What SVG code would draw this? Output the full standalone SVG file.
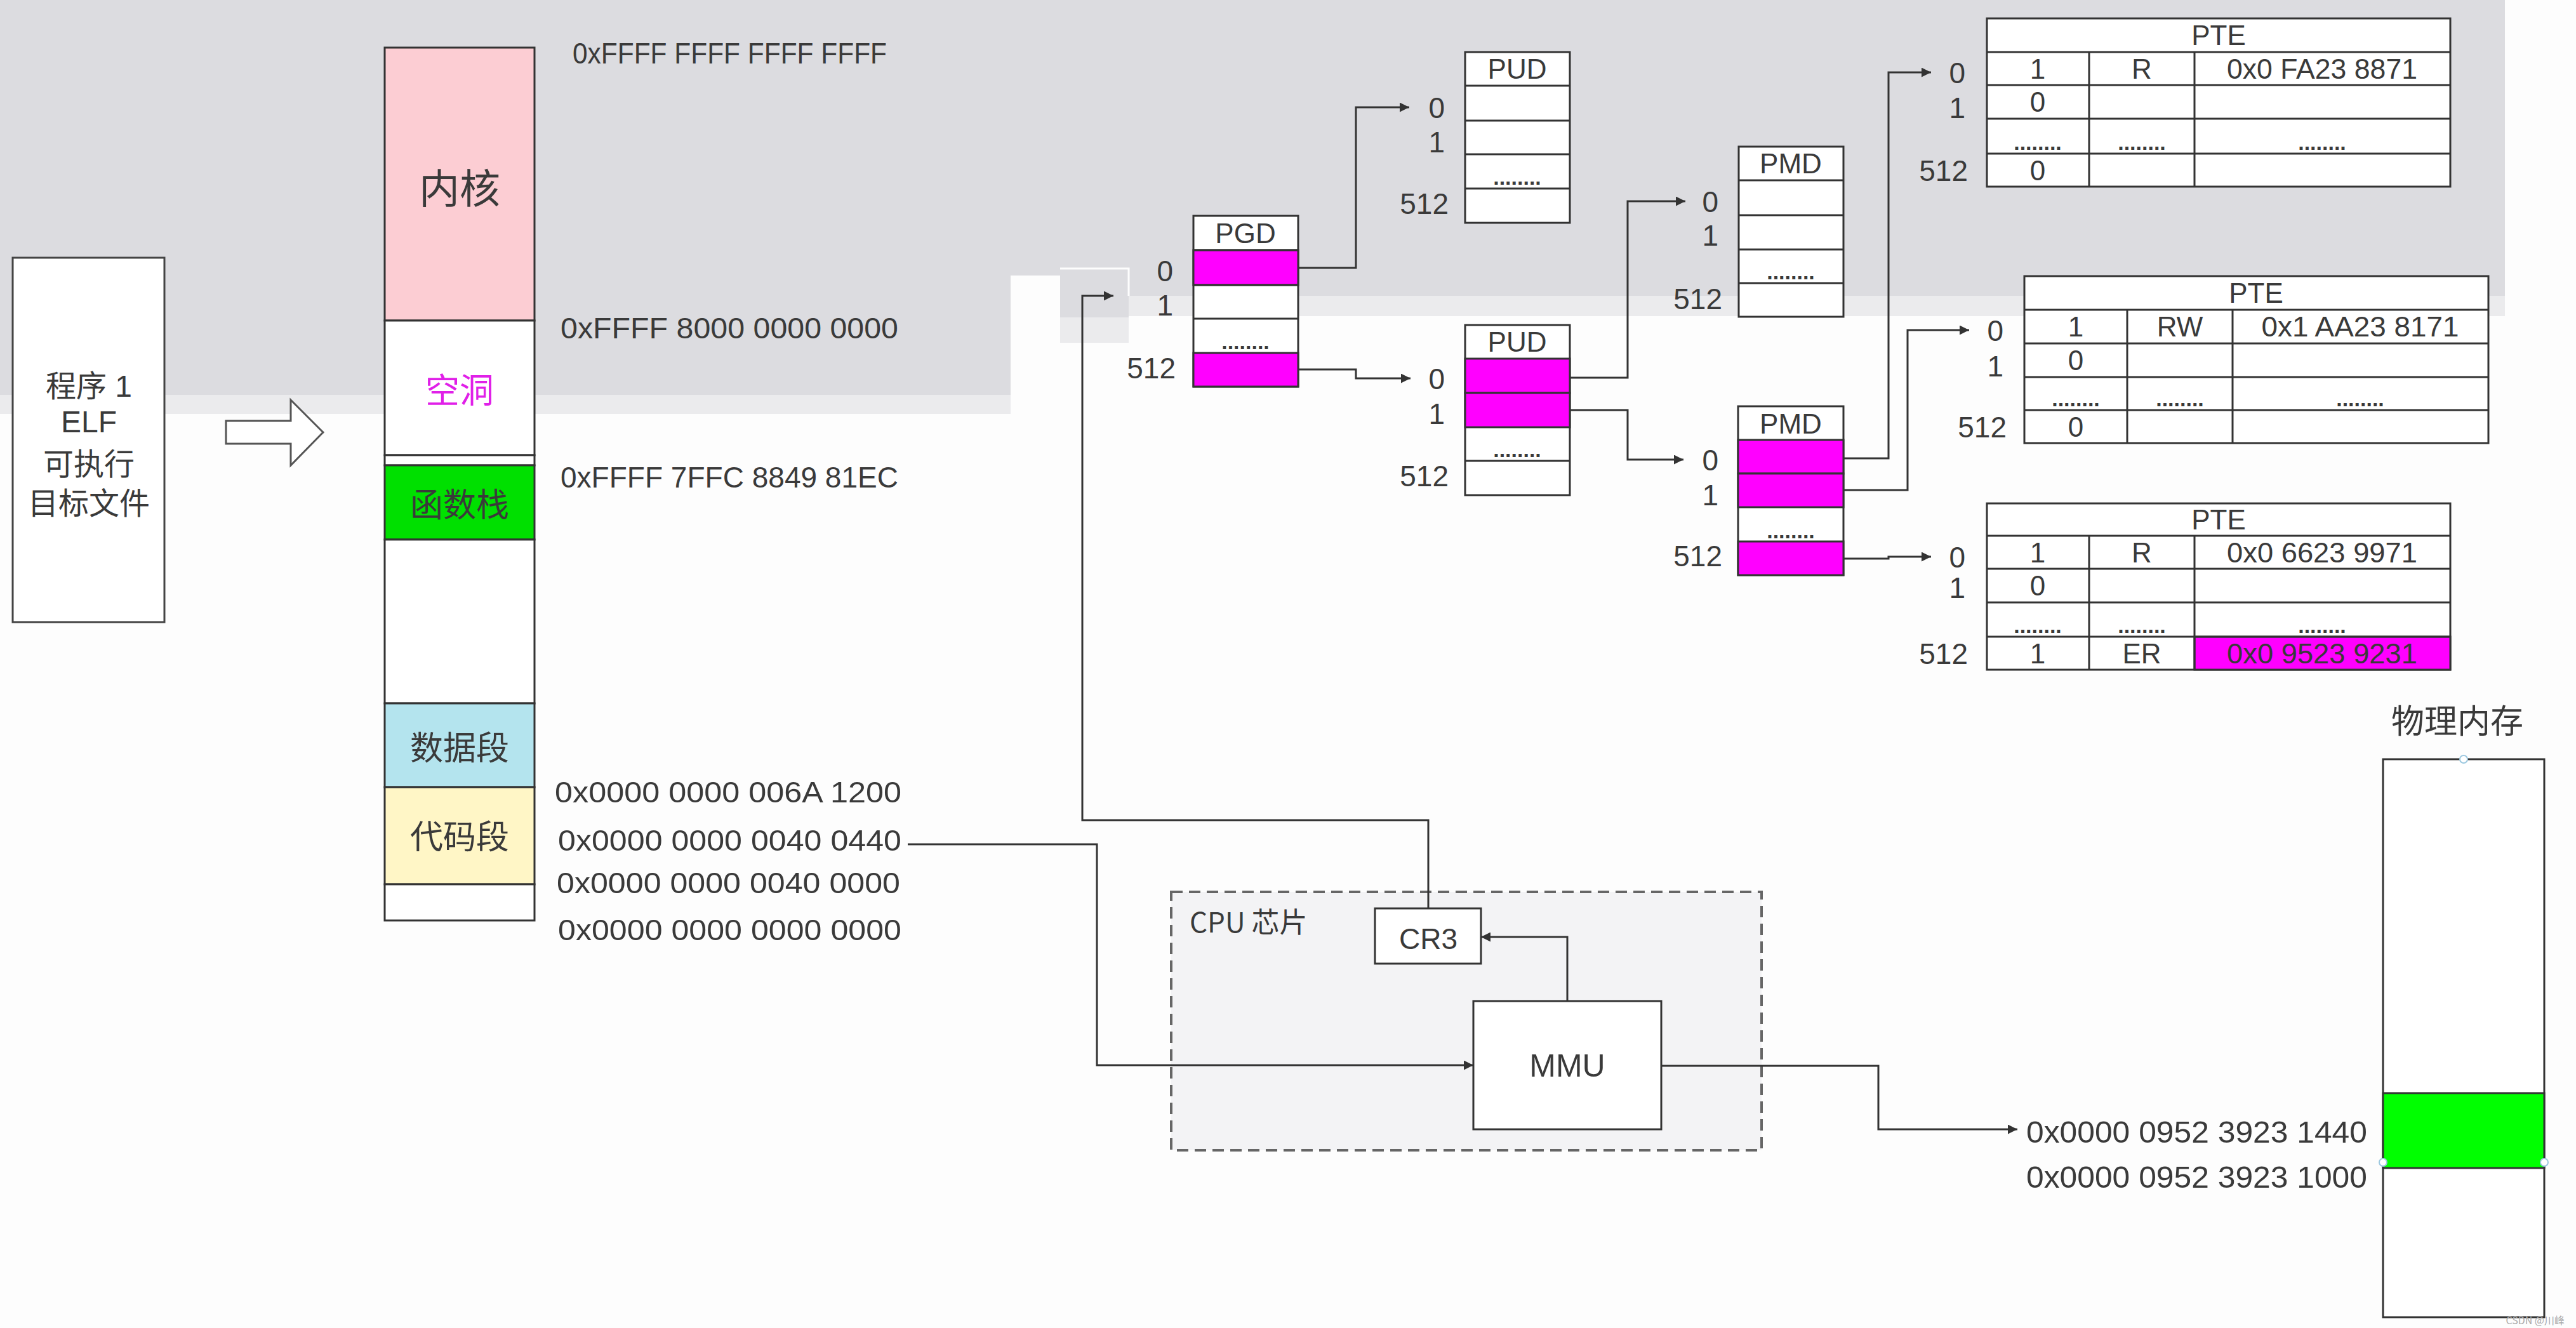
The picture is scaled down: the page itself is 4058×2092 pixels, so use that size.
<svg xmlns="http://www.w3.org/2000/svg" width="4058" height="2092" viewBox="0 0 4058 2092">
<defs>
<style>
.t{font-family:"Liberation Sans","Noto Sans CJK SC",sans-serif;fill:#3a3a3a;}
.cj{font-family:"Noto Sans CJK SC","Liberation Sans",sans-serif;fill:#3a3a3a;}
.m{text-anchor:middle;}
.e{text-anchor:end;}
.lbl{font-size:46px;}
.hdr{font-size:44px;}
.cell{font-size:44px;}
.dots{font-size:34px;font-weight:bold;}
.addr{font-size:46px;}
.box{fill:#fff;stroke:#333;stroke-width:3;}
.mag{fill:#ff00ff;stroke:#333;stroke-width:3;}
.ln{stroke:#333;stroke-width:3;fill:none;}
.conn{fill:none;stroke:#333;stroke-width:3;}
.handle{fill:#fff;stroke:#9cc8e0;stroke-width:2;}
</style>
<marker id="ah" viewBox="0 0 10 10" refX="10" refY="5" markerWidth="22" markerHeight="15" markerUnits="userSpaceOnUse" orient="auto">
<path d="M0,0 L10,5 L0,10 z" fill="#333"/>
</marker>
</defs>

<!-- background -->
<rect x="0" y="0" width="4058" height="2092" fill="#fdfdfd"/>
<g id="background">
<rect x="0" y="0" width="3946" height="466" fill="#dcdce0"/>
<rect x="0" y="466" width="1592" height="156" fill="#dcdce0"/>
<rect x="0" y="622" width="1592" height="30" fill="#ebebed"/>
<rect x="1778" y="466" width="2168" height="32" fill="#ebebed"/>
<rect x="1592" y="434" width="78" height="32" fill="#fdfdfd"/>
<rect x="1670" y="466" width="108" height="34" fill="#dcdce0"/>
<rect x="1670" y="500" width="108" height="40" fill="#ebebed"/>
<path d="M1670,423 H1778 V466" fill="none" stroke="#fdfdfd" stroke-width="3"/>
</g>

<!-- program box -->
<g id="program">
<rect x="20" y="406" width="239" height="574" fill="#fff" stroke="#444" stroke-width="3"/>
<text class="t m" x="140" y="625" font-size="48">程序 1</text>
<text class="t m" x="140" y="681" font-size="48">ELF</text>
<text class="t m" x="140" y="748" font-size="48">可执行</text>
<text class="t m" x="140" y="810" font-size="48">目标文件</text>
</g>

<g id="load-arrow">
<polygon points="356,663 458,663 458,630 509,681 458,733 458,699 356,699" fill="#fff" stroke="#555" stroke-width="3"/>
</g>

<!-- virtual memory column -->
<g id="vmem">
<rect x="606" y="75" width="236" height="430" fill="#fccdd3" stroke="#333" stroke-width="3"/>
<rect x="606" y="505" width="236" height="212" class="box"/>
<rect x="606" y="717" width="236" height="16" class="box"/>
<rect x="606" y="733" width="236" height="117" fill="#00e000" stroke="#333" stroke-width="3"/>
<rect x="606" y="850" width="236" height="258" class="box"/>
<rect x="606" y="1108" width="236" height="132" fill="#b4e4ee" stroke="#333" stroke-width="3"/>
<rect x="606" y="1240" width="236" height="153" fill="#fff6c6" stroke="#333" stroke-width="3"/>
<rect x="606" y="1393" width="236" height="57" class="box"/>
<text class="cj m" x="724" y="320" font-size="64">内核</text>
<text class="cj m" x="724" y="635" font-size="54" style="fill:#e020e8">空洞</text>
<text class="cj m" x="724" y="814" font-size="52">函数栈</text>
<text class="cj m" x="724" y="1197" font-size="52">数据段</text>
<text class="cj m" x="724" y="1337" font-size="52">代码段</text>
</g>

<g id="vaddr-labels">
<text class="t addr" x="902" y="100" textLength="495" lengthAdjust="spacingAndGlyphs">0xFFFF FFFF FFFF FFFF</text>
<text class="t addr" x="883" y="533" textLength="532" lengthAdjust="spacingAndGlyphs">0xFFFF 8000 0000 0000</text>
<text class="t addr" x="883" y="768" textLength="532" lengthAdjust="spacingAndGlyphs">0xFFFF 7FFC 8849 81EC</text>
<text class="t addr" x="874" y="1264" textLength="546" lengthAdjust="spacingAndGlyphs">0x0000 0000 006A 1200</text>
<text class="t addr" x="879" y="1340" textLength="541" lengthAdjust="spacingAndGlyphs">0x0000 0000 0040 0440</text>
<text class="t addr" x="877" y="1407" textLength="541" lengthAdjust="spacingAndGlyphs">0x0000 0000 0040 0000</text>
<text class="t addr" x="879" y="1481" textLength="541" lengthAdjust="spacingAndGlyphs">0x0000 0000 0000 0000</text>
</g>

<!-- PGD -->
<g id="pgd">
<rect x="1880" y="340" width="165" height="269" class="box"/>
<rect x="1880" y="394" width="165" height="55" class="mag"/>
<rect x="1880" y="556" width="165" height="53" class="mag"/>
<path class="ln" d="M1880,394 H2045 M1880,449 H2045 M1880,502 H2045"/>
<text class="t m hdr" x="1962" y="383">PGD</text>
<text class="t m dots" x="1962" y="550">........</text>
<text class="t e lbl" x="1848" y="443">0</text>
<text class="t e lbl" x="1848" y="497">1</text>
<text class="t e lbl" x="1852" y="596">512</text>
</g>

<!-- PUD upper -->
<g id="pud-1">
<rect x="2308" y="82" width="165" height="269" class="box"/>
<path class="ln" d="M2308,135 H2473 M2308,190 H2473 M2308,243 H2473 M2308,297 H2473"/>
<text class="t m hdr" x="2390" y="124">PUD</text>
<text class="t m dots" x="2390" y="291">........</text>
<text class="t e lbl" x="2276" y="186">0</text>
<text class="t e lbl" x="2276" y="240">1</text>
<text class="t e lbl" x="2282" y="337">512</text>
</g>

<!-- PMD upper -->
<g id="pmd-1">
<rect x="2739" y="231" width="165" height="268" class="box"/>
<path class="ln" d="M2739,284 H2904 M2739,339 H2904 M2739,393 H2904 M2739,446 H2904"/>
<text class="t m hdr" x="2821" y="273">PMD</text>
<text class="t m dots" x="2821" y="440">........</text>
<text class="t e lbl" x="2707" y="334">0</text>
<text class="t e lbl" x="2707" y="387">1</text>
<text class="t e lbl" x="2713" y="487">512</text>
</g>

<!-- PUD lower -->
<g id="pud-2">
<rect x="2308" y="512" width="165" height="268" class="box"/>
<rect x="2308" y="565" width="165" height="54" class="mag"/>
<rect x="2308" y="619" width="165" height="54" class="mag"/>
<path class="ln" d="M2308,726 H2473"/>
<text class="t m hdr" x="2390" y="554">PUD</text>
<text class="t m dots" x="2390" y="720">........</text>
<text class="t e lbl" x="2276" y="613">0</text>
<text class="t e lbl" x="2276" y="668">1</text>
<text class="t e lbl" x="2282" y="766">512</text>
</g>

<!-- PMD lower -->
<g id="pmd-2">
<rect x="2738" y="640" width="166" height="266" class="box"/>
<rect x="2738" y="693" width="166" height="53" class="mag"/>
<rect x="2738" y="746" width="166" height="53" class="mag"/>
<rect x="2738" y="853" width="166" height="53" class="mag"/>
<text class="t m hdr" x="2821" y="683">PMD</text>
<text class="t m dots" x="2821" y="848">........</text>
<text class="t e lbl" x="2707" y="741">0</text>
<text class="t e lbl" x="2707" y="796">1</text>
<text class="t e lbl" x="2713" y="892">512</text>
</g>

<!-- PTE 1 -->
<g id="pte-1">
<rect x="3130" y="29" width="730" height="265" class="box"/>
<path class="ln" d="M3130,82 H3860 M3130,134 H3860 M3130,187 H3860 M3130,242 H3860 M3291,82 V294 M3457,82 V294"/>
<text class="t m hdr" x="3495" y="71">PTE</text>
<text class="t m cell" x="3210" y="124">1</text>
<text class="t m cell" x="3374" y="124">R</text>
<text class="t m cell" x="3658" y="124" textLength="300" lengthAdjust="spacingAndGlyphs">0x0 FA23 8871</text>
<text class="t m cell" x="3210" y="176">0</text>
<text class="t m dots" x="3210" y="236">........</text>
<text class="t m dots" x="3374" y="236">........</text>
<text class="t m dots" x="3658" y="236">........</text>
<text class="t m cell" x="3210" y="284">0</text>
<text class="t e lbl" x="3096" y="131">0</text>
<text class="t e lbl" x="3096" y="186">1</text>
<text class="t e lbl" x="3100" y="285">512</text>
</g>

<!-- PTE 2 -->
<g id="pte-2">
<rect x="3189" y="435" width="731" height="263" class="box"/>
<path class="ln" d="M3189,488 H3920 M3189,541 H3920 M3189,594 H3920 M3189,646 H3920 M3351,488 V698 M3517,488 V698"/>
<text class="t m hdr" x="3554" y="477">PTE</text>
<text class="t m cell" x="3270" y="530">1</text>
<text class="t m cell" x="3434" y="530">RW</text>
<text class="t m cell" x="3718" y="530" textLength="311" lengthAdjust="spacingAndGlyphs">0x1 AA23 8171</text>
<text class="t m cell" x="3270" y="583">0</text>
<text class="t m dots" x="3270" y="640">........</text>
<text class="t m dots" x="3434" y="640">........</text>
<text class="t m dots" x="3718" y="640">........</text>
<text class="t m cell" x="3270" y="688">0</text>
<text class="t e lbl" x="3156" y="537">0</text>
<text class="t e lbl" x="3156" y="593">1</text>
<text class="t e lbl" x="3161" y="689">512</text>
</g>

<!-- PTE 3 -->
<g id="pte-3">
<rect x="3130" y="793" width="730" height="262" class="box"/>
<rect x="3457" y="1003" width="403" height="52" class="mag"/>
<path class="ln" d="M3130,844 H3860 M3130,896 H3860 M3130,949 H3860 M3130,1003 H3860 M3291,844 V1055 M3457,844 V1055"/>
<text class="t m hdr" x="3495" y="834">PTE</text>
<text class="t m cell" x="3210" y="886">1</text>
<text class="t m cell" x="3374" y="886">R</text>
<text class="t m cell" x="3658" y="886" textLength="300" lengthAdjust="spacingAndGlyphs">0x0 6623 9971</text>
<text class="t m cell" x="3210" y="938">0</text>
<text class="t m dots" x="3210" y="997">........</text>
<text class="t m dots" x="3374" y="997">........</text>
<text class="t m dots" x="3658" y="997">........</text>
<text class="t m cell" x="3210" y="1045">1</text>
<text class="t m cell" x="3374" y="1045">ER</text>
<text class="t m cell" x="3658" y="1045" textLength="300" lengthAdjust="spacingAndGlyphs">0x0 9523 9231</text>
<text class="t e lbl" x="3096" y="894">0</text>
<text class="t e lbl" x="3096" y="942">1</text>
<text class="t e lbl" x="3100" y="1046">512</text>
</g>

<!-- CPU -->
<g id="cpu">
<rect x="1845" y="1405" width="930" height="407" fill="#f3f3f5" stroke="#666" stroke-width="4" stroke-dasharray="18 10"/>
<text class="cj" x="1874" y="1469" font-size="44">CPU 芯片</text>
</g>
<g id="cr3">
<rect x="2166" y="1431" width="167" height="87" class="box"/>
<text class="t m" x="2250" y="1495" font-size="46">CR3</text>
</g>
<g id="mmu">
<rect x="2321" y="1577" width="296" height="202" class="box"/>
<text class="t m" x="2469" y="1696" font-size="50">MMU</text>
</g>

<!-- physical memory -->
<g id="pmem">
<text class="cj m" x="3871" y="1155" font-size="52">物理内存</text>
<rect x="3754" y="1196" width="254" height="879" class="box"/>
<rect x="3754" y="1722" width="254" height="118" fill="#00ff00" stroke="#333" stroke-width="3"/>
<circle class="handle" cx="3881" cy="1196" r="6"/>
<circle class="handle" cx="3754" cy="1831" r="6"/>
<circle class="handle" cx="4008" cy="1831" r="6"/>
<text class="t" x="3192" y="1800" font-size="49" textLength="537" lengthAdjust="spacingAndGlyphs">0x0000 0952 3923 1440</text>
<text class="t" x="3192" y="1871" font-size="49" textLength="537" lengthAdjust="spacingAndGlyphs">0x0000 0952 3923 1000</text>
</g>

<!-- connectors -->
<g id="connectors">
<path class="conn" marker-end="url(#ah)" d="M2045,422 H2136 V169 H2220"/>
<path class="conn" marker-end="url(#ah)" d="M2045,582 H2136 V596 H2222"/>
<path class="conn" marker-end="url(#ah)" d="M2473,595 H2564 V317 H2655"/>
<path class="conn" marker-end="url(#ah)" d="M2473,646 H2564 V724 H2652"/>
<path class="conn" marker-end="url(#ah)" d="M2904,722 H2975 V114 H3042"/>
<path class="conn" marker-end="url(#ah)" d="M2904,772 H3005 V520 H3102"/>
<path class="conn" marker-end="url(#ah)" d="M2904,880 H2975 V877 H3042"/>
<path class="conn" marker-end="url(#ah)" d="M2250,1431 V1292 H1705 V466 H1754"/>
<path class="conn" marker-end="url(#ah)" d="M1430,1330 H1728 V1678 H2321"/>
<path class="conn" marker-end="url(#ah)" d="M2469,1577 V1476 H2333"/>
<path class="conn" marker-end="url(#ah)" d="M2617,1679 H2959 V1779 H3178"/>
</g>

<text class="cj e" x="4040" y="2086" font-size="16" style="fill:#aaa">CSDN @川峰</text>
</svg>
